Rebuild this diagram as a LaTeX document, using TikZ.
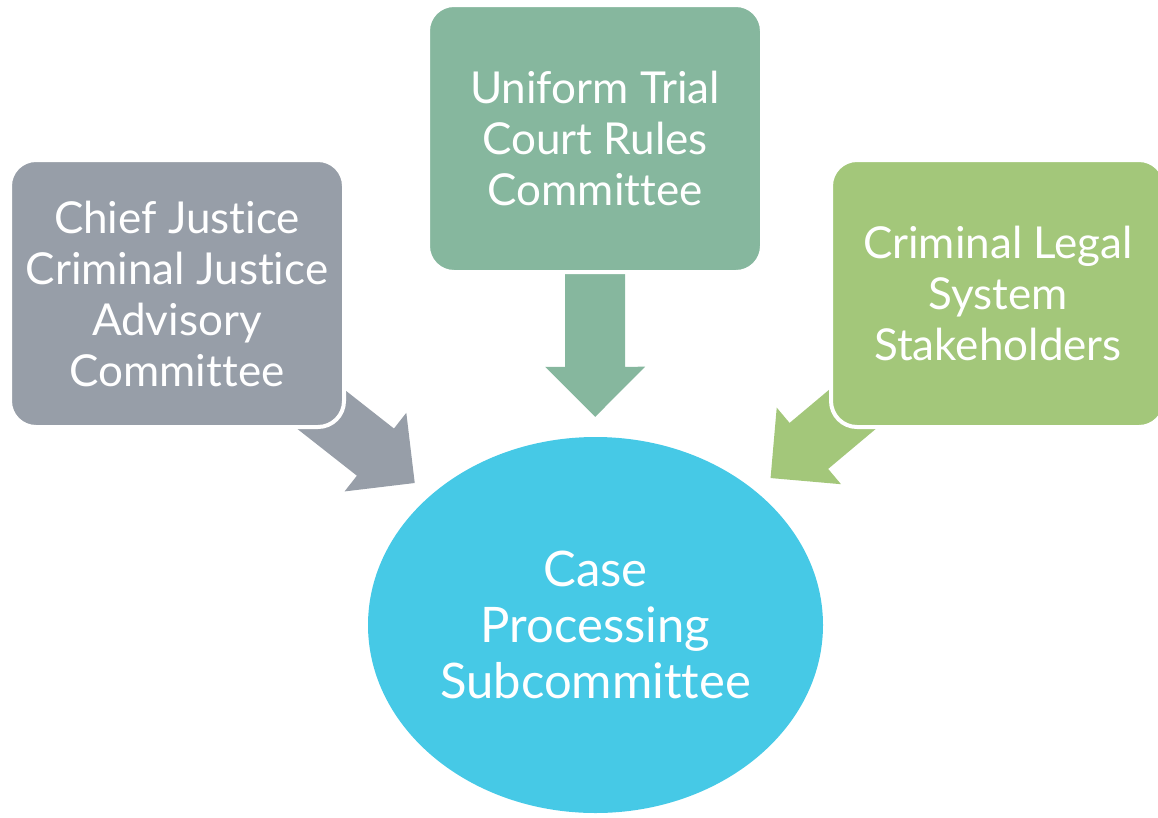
\documentclass[tikz,border=0pt]{standalone}
\usepackage{fontspec}
\setmainfont{Lato}[Ligatures=NoCommon]
\usetikzlibrary{calc,shapes.geometric,backgrounds}
\definecolor{slate}{HTML}{979EA8}
\definecolor{sage}{HTML}{86B79E}
\definecolor{leaf}{HTML}{A3C77A}
\definecolor{sky}{HTML}{46C9E6}
\tikzset{
  panel/.style={rounded corners=26pt, draw=white, line width=4pt,
    minimum width=334pt, minimum height=267pt, inner sep=0pt,
    align=center, text=white, font=\fontsize{44}{51}\selectfont},
  hubnode/.style={ellipse, fill=sky, minimum width=455pt, minimum height=376pt,
    inner sep=0pt, align=center, text=white, font=\fontsize{49}{56}\selectfont}
}
\newcommand{\fatarrow}[3]{%
  \path (#2) -- (#3) coordinate[pos=1] (tipedge);
  \coordinate (tip) at ($(tipedge)!20pt!(#2)$);
  \coordinate (base) at ($(tip)!50pt!(#2)$);
  \fill[#1] ($(#2)!30pt!90:(tip)$) -- ($(base)!30pt!90:(tip)$)
    -- ($(base)!50pt!90:(tip)$) -- (tip) -- ($(base)!50pt!-90:(tip)$)
    -- ($(base)!30pt!-90:(tip)$) -- ($(#2)!30pt!-90:(tip)$) -- cycle;
}
\begin{document}
\begin{tikzpicture}[x=1pt, y=-1pt]
  \useasboundingbox (0,0) rectangle (1158,817);
  \node[hubnode] (hub) at (595.5,625) {Case\\Processing\\Subcommittee};
  \node[panel, fill=slate] (chief) at (177,293.5) {Chief Justice\\Criminal Justice\\Advisory\\Committee};
  \node[panel, fill=sage] (rules) at (595,138.5) {Uniform Trial\\Court Rules\\Committee};
  \node[panel, fill=leaf] (legal) at (998,293.5) {Criminal Legal\\System\\Stakeholders};
  \coordinate (chiefFoot) at ($(chief.south east)!-50pt!(hub)$);
  \coordinate (rulesFoot) at ($(rules.south)!-50pt!(hub)$);
  \coordinate (legalFoot) at ($(legal.south west)!-50pt!(hub)$);
  \begin{scope}[on background layer]
    \fatarrow{slate}{chiefFoot}{hub}
    \fatarrow{sage}{rulesFoot}{hub}
    \fatarrow{leaf}{legalFoot}{hub}
  \end{scope}
\end{tikzpicture}
\end{document}
